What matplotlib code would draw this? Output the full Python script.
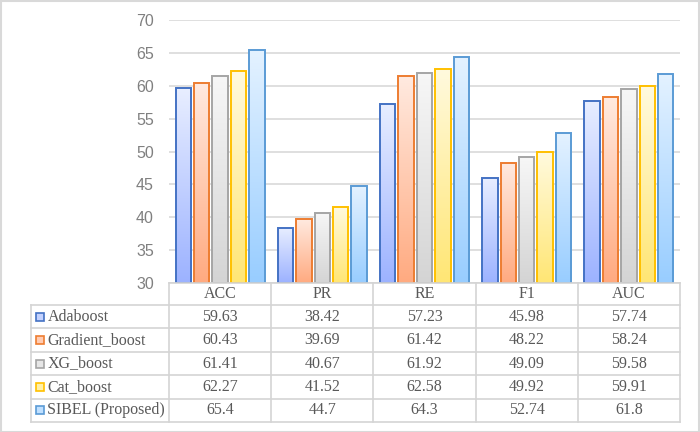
import matplotlib
matplotlib.use("Agg")
import matplotlib.pyplot as plt
import numpy as np
from matplotlib.colors import LinearSegmentedColormap
from matplotlib.patches import Rectangle
from matplotlib.lines import Line2D

categories = ["ACC", "PR", "RE", "F1", "AUC"]
series_names = ["Adaboost", "Gradient_boost", "XG_boost", "Cat_boost", "SIBEL (Proposed)"]
adaboost = [59.63, 38.42, 57.23, 45.98, 57.74]
gradient_boost = [60.43, 39.69, 61.42, 48.22, 58.24]
xg_boost = [61.41, 40.67, 61.92, 49.09, 59.58]
cat_boost = [62.27, 41.52, 62.58, 49.92, 59.91]
sibel = [65.4, 44.7, 64.3, 52.74, 61.8]
table_text = [
    ["59.63", "38.42", "57.23", "45.98", "57.74"],
    ["60.43", "39.69", "61.42", "48.22", "58.24"],
    ["61.41", "40.67", "61.92", "49.09", "59.58"],
    ["62.27", "41.52", "62.58", "49.92", "59.91"],
    ["65.4", "44.7", "64.3", "52.74", "61.8"],
]
y_ticks = [30, 35, 40, 45, 50, 55, 60, 65, 70]

series = [adaboost, gradient_boost, xg_boost, cat_boost, sibel]
edge_colors = ["#4472c4", "#ed7d31", "#a5a5a5", "#ffc000", "#5b9bd5"]
top_colors = ["#e8eeff", "#ffeae0", "#f7f7f7", "#fffade", "#e4f2ff"]
bot_colors = ["#9cb2ff", "#ffaa80", "#d4d4d4", "#ffe674", "#98cdff"]
key_colors = ["#c4d2ff", "#ffcbb2", "#e6e6e6", "#fff0a8", "#c0e0ff"]

W, H = 700, 432
fig = plt.figure(figsize=(7.0, 4.32), dpi=100)

def fx(x):
    return x / W

def fy(y):
    return 1 - y / H

ax_l, ax_r, ax_t, ax_b = 169, 680, 20, 283
ax = fig.add_axes([fx(ax_l), fy(ax_b), (ax_r - ax_l) / W, (ax_b - ax_t) / H])

x = np.arange(len(categories))
pitch = 0.18
width = 0.152
n = len(series)
for j, vals in enumerate(series):
    offs = x + (j - (n - 1) / 2) * pitch
    bars = ax.bar(offs, np.array(vals) - 30, width=width, bottom=30,
                  facecolor="none", edgecolor=edge_colors[j], linewidth=1.4, zorder=4)
    cmap = LinearSegmentedColormap.from_list("g%d" % j, [bot_colors[j], top_colors[j]])
    grad = np.linspace(0, 1, 256).reshape(-1, 1)
    for b in bars:
        x0, y0 = b.get_x(), b.get_y()
        im = ax.imshow(grad, cmap=cmap, origin="lower", aspect="auto",
                       extent=[x0, x0 + b.get_width(), y0, y0 + b.get_height()],
                       zorder=3, interpolation="bilinear")
        im.set_clip_path(b)

ax.set_xlim(-0.5, len(categories) - 0.5)
ax.set_ylim(30, 70)
ax.set_yticks(y_ticks)
ax.yaxis.grid(True, color="#d9d9d9", linewidth=1.2, zorder=0)
ax.set_axisbelow(True)
ax.set_xticks([])
for s in ax.spines.values():
    s.set_visible(False)
ax.tick_params(axis="y", length=0, pad=11, labelsize=11.5, labelcolor="#808080")
for lab in ax.get_yticklabels():
    lab.set_fontfamily("Liberation Sans")

# Data table
line_c = "#d4d4d4"
tbl_left = 30.7
hdr_top, hdr_bot = 283, 305
row_h = (422 - 305) / 5
cat_w = (ax_r - ax_l) / len(categories)
text_c = "#595959"

def hline(y, x0, x1):
    fig.add_artist(Line2D([fx(x0), fx(x1)], [fy(y), fy(y)], color=line_c, lw=1.2))

def vline(x_, y0, y1):
    fig.add_artist(Line2D([fx(x_), fx(x_)], [fy(y0), fy(y1)], color=line_c, lw=1.2))

hline(hdr_top, ax_l, ax_r)
hline(hdr_bot, tbl_left, ax_r)
for i in range(1, len(series) + 1):
    hline(hdr_bot + i * row_h, tbl_left, ax_r)
vline(tbl_left, hdr_bot, hdr_bot + len(series) * row_h)
for k in range(len(categories) + 1):
    vline(ax_l + k * cat_w, hdr_top, hdr_bot + len(series) * row_h)

for k, c in enumerate(categories):
    fig.text(fx(ax_l + (k + 0.5) * cat_w), fy((hdr_top + hdr_bot) / 2), c,
             ha="center", va="center", fontsize=11.5, family="Liberation Serif", color=text_c)

for i, name in enumerate(series_names):
    yc = hdr_bot + (i + 0.5) * row_h
    fig.add_artist(Rectangle((fx(36), fy(yc + 4)), 8 / W, 8 / H,
                             facecolor=key_colors[i], edgecolor=edge_colors[i], lw=1.2,
                             transform=fig.transFigure))
    fig.text(fx(47.5), fy(yc), name, ha="left", va="center", fontsize=11.5,
             family="Liberation Serif", color=text_c)
    for k in range(len(categories)):
        fig.text(fx(ax_l + (k + 0.5) * cat_w), fy(yc), table_text[i][k],
                 ha="center", va="center", fontsize=11.5, family="Liberation Serif", color=text_c)

# outer frame
fig.add_artist(Rectangle((0.5 / W, 0.5 / H), 1 - 1.5 / W, 1 - 1.5 / H, facecolor="none",
                         edgecolor="#d9d9d9", lw=1.5, transform=fig.transFigure))

fig.savefig("out.png", dpi=100)
